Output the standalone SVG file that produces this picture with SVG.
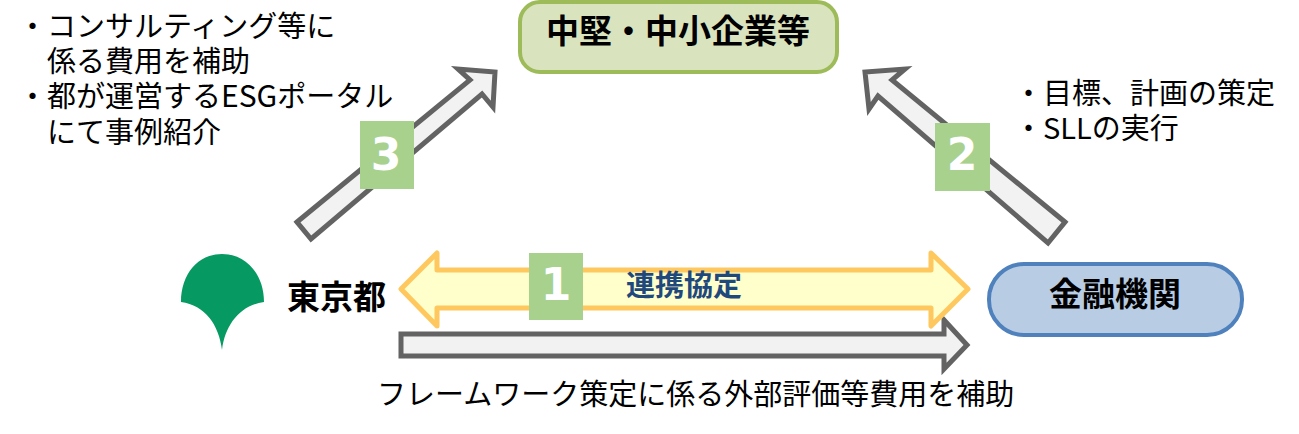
<svg xmlns="http://www.w3.org/2000/svg" width="1299" height="434" viewBox="0 0 1299 434">
<style>
text{font-family:"Noto Sans CJK JP","Noto Sans",sans-serif;fill:#000}
.t{font-size:29px}
.b{font-size:33px;font-weight:700}
.n{font-size:44px;font-weight:700;fill:#fff;font-family:"DejaVu Sans",sans-serif;text-anchor:middle}
.g{fill:#f2f2f2;stroke:#636363;stroke-width:5}
.badge{fill:#a9d18e}
</style>
<rect width="1299" height="434" fill="#fff"/>
<g id="connectors">
<polygon class="g" points="297,222 470,80 458,69 495,72 493,107 482,94 311,239"/>
<polygon class="g" points="1065,222 892,80 905,69 865,72 869,109 878,96 1048,243"/>
<polygon class="g" points="401,334 944,334 944,320 967,345 944,369 944,356 401,356"/>
<polygon points="401,289 437,253 437,270 931,270 931,253 968,289 931,326 931,308 437,308 437,326" fill="#ffffcc" stroke="#ffc85f" stroke-width="5" stroke-linejoin="round"/>
</g>
<g id="node-chuken">
<rect x="520" y="2" width="317" height="70" rx="20" fill="#d9e4bf" stroke="#9dbb59" stroke-width="4"/>
<text class="b" x="678" y="43" text-anchor="middle">中堅・中小企業等</text>
</g>
<g id="node-kinyu">
<rect x="989" y="264" width="253" height="71" rx="35" fill="#b8cce4" stroke="#4f81bd" stroke-width="4"/>
<text class="b" x="1115" y="306" text-anchor="middle">金融機関</text>
</g>
<g id="node-tokyo">
<path d="M222,350C219,325 205,305 181,302C181,274 198,254 222,254C246,254 264,274 264,302C240,305 225,325 222,350Z" fill="#069a62"/>
<text class="b" x="287" y="309">東京都</text>
</g>
<g id="badge-3"><rect class="badge" x="360" y="121" width="54" height="68"/><text class="n" x="386" y="170">3</text></g>
<g id="badge-2"><rect class="badge" x="935" y="123" width="55" height="68"/><text class="n" x="962" y="170">2</text></g>
<g id="badge-1"><rect class="badge" x="529" y="253" width="54" height="67"/><text class="n" x="556" y="300">1</text></g>
<g id="labels">
<text x="626" y="296" style="font-size:29px;font-weight:700;fill:#1f497d">連携協定</text>
<text class="t"><tspan x="18" y="37">・コンサルティング等に</tspan><tspan x="47" y="72">係る費用を補助</tspan><tspan x="18" y="107">・都が運営する<tspan style="font-size:30px">ESG</tspan>ポータル</tspan><tspan x="47" y="143">にて事例紹介</tspan></text>
<text class="t"><tspan x="1014" y="104">・目標、計画の策定</tspan><tspan x="1014" y="139">・SLLの実行</tspan></text>
<text class="t" x="377" y="405">フレームワーク策定に係る外部評価等費用を補助</text>
</g>
</svg>
